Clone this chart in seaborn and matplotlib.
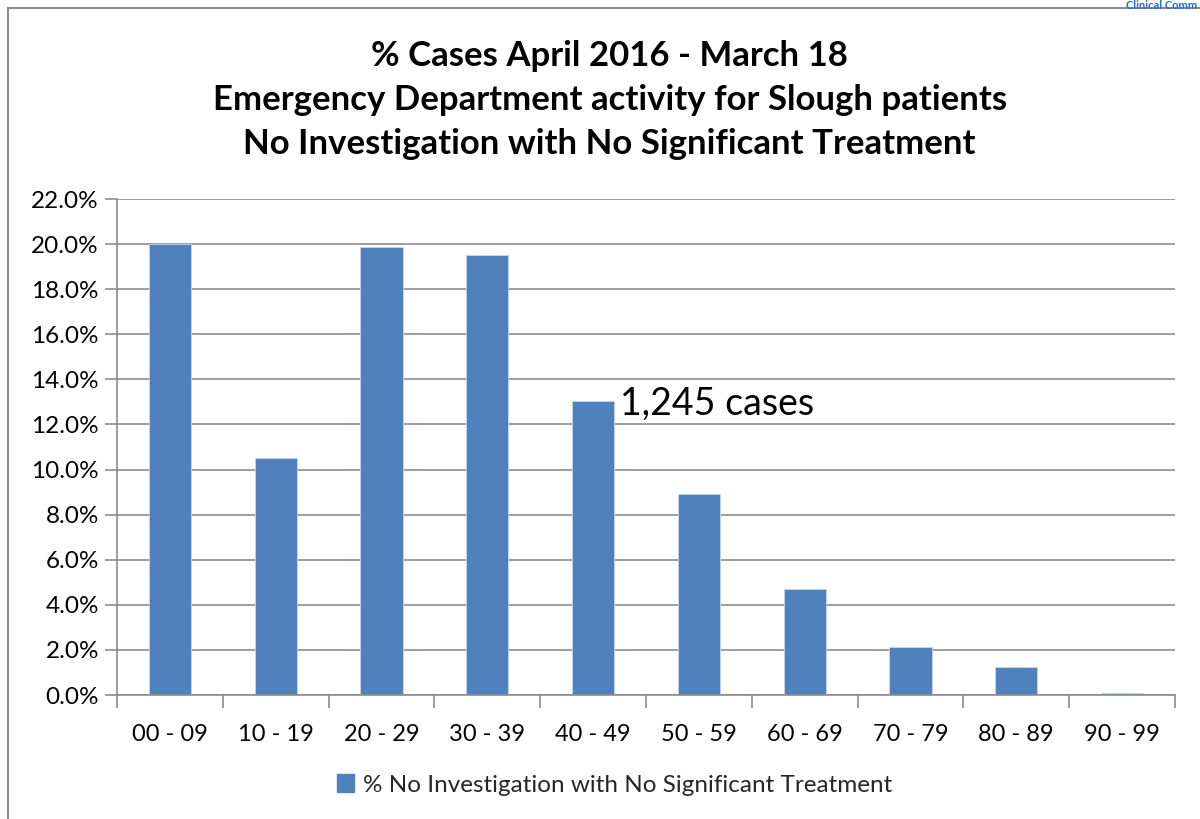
import matplotlib
matplotlib.use("Agg")
import matplotlib.pyplot as plt
import seaborn as sns
import pandas as pd
from matplotlib.ticker import FuncFormatter, FixedLocator
from matplotlib.patches import Rectangle

categories = ["00 - 09", "10 - 19", "20 - 29", "30 - 39", "40 - 49",
              "50 - 59", "60 - 69", "70 - 79", "80 - 89", "90 - 99"]
values = [20.0, 10.5, 19.85, 19.5, 13.05, 8.9, 4.7, 2.12, 1.23, 0.08]
series_name = "% No Investigation with No Significant Treatment"
title = ("% Cases April 2016 - March 18\n"
         "Emergency Department activity for Slough patients\n"
         "No Investigation with No Significant Treatment")
annotation = "1,245 cases"
header_text = "Clinical Comm"

sns.set_theme(style="white")
plt.rcParams['font.family'] = ['Lato', 'DejaVu Sans']

df = pd.DataFrame({"age": categories, "pct": values, "series": series_name})

fig = plt.figure(figsize=(12, 8.19), dpi=100)
ax = fig.add_axes([117/1200, 1 - 695/819, (1175-117)/1200, (695-199)/819])

bar_color = "#4F81BD"
sns.barplot(data=df, x="age", y="pct", hue="series", palette=[bar_color],
            width=0.4, ax=ax, legend=False, saturation=1)
for p in ax.patches:
    p.set_edgecolor("#C6D6EC")
    p.set_linewidth(0.6)

ax.set_xlim(-0.5, 9.5)
ax.set_ylim(0, 22)
ax.set_yticks([i * 2 for i in range(12)])
ax.yaxis.set_major_formatter(FuncFormatter(lambda v, _: f"{v:.1f}%"))
ax.grid(axis="y", color="#8C8C8C", linewidth=1.2)
ax.set_axisbelow(True)
ax.set_xlabel("")
ax.set_ylabel("")

for s in ["top", "right"]:
    ax.spines[s].set_visible(False)
ax.spines["left"].set_color("#8C8C8C")
ax.spines["bottom"].set_color("#8C8C8C")
ax.spines["left"].set_linewidth(1.2)
ax.spines["bottom"].set_linewidth(1.2)

ax.tick_params(axis="y", which="major", length=9, color="#8C8C8C", width=1.2,
               labelsize=17.5, pad=4, labelcolor="black", left=True)
ax.tick_params(axis="x", which="major", length=0, labelsize=17, pad=21,
               labelcolor="black")
ax.xaxis.set_minor_locator(FixedLocator([i - 0.5 for i in range(11)]))
ax.tick_params(axis="x", which="minor", length=9, color="#8C8C8C", width=1.2,
               bottom=True)

ax.text(4.254, 12.9, annotation, fontsize=27, va="center", ha="left",
        color="black")

fig.text(0.508, 1 - 100/819, title, ha="center", va="center", fontsize=25,
         fontweight="bold", linespacing=1.45, color="black")

# legend
handle = Rectangle((0, 0), 1, 1, color=bar_color)
fig.legend([handle], [series_name], loc="center", bbox_to_anchor=(0.512, 1 - 785/819),
           frameon=False, fontsize=17.5, handlelength=0.7, handleheight=0.7,
           handletextpad=0.35)

# outer chart frame
fig.patches.append(Rectangle((8/1200, -0.01), 1.2, 1 - 8/819 + 0.01, transform=fig.transFigure,
                             fill=False, edgecolor="#8C8C8C", linewidth=1.5))
fig.text(0.998, 0.9995, header_text, color="#1F6FC5",
         fontsize=8, fontweight="bold", va="top", ha="right")

fig.savefig("out.png", dpi=100)
